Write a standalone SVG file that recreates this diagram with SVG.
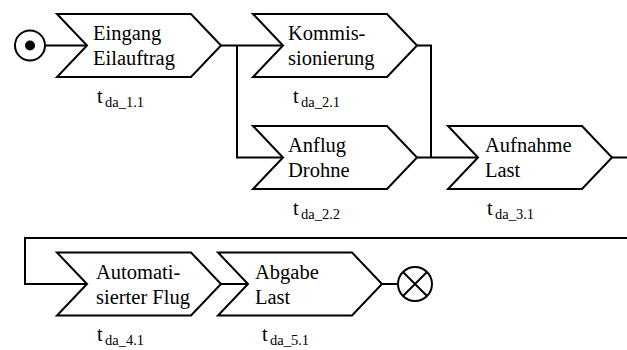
<svg xmlns="http://www.w3.org/2000/svg" width="627" height="350" viewBox="0 0 627 350" font-family="Liberation Serif, serif">
  <style>
    .shape { fill: #fff; stroke: #000; stroke-width: 2; }
    .wire { fill: none; stroke: #000; stroke-width: 2; }
    text { font-family: 'Liberation Serif', serif; font-size: 20.5px; fill: #000; }
    .sub { font-size: 14.5px; }
  </style>
  <defs>
    <!-- process step: chevron 164 wide, 63 high, notch and tip 30 deep -->
    <path id="step" class="shape" d="M0,0 H134 L164,31.5 L134,63 H0 L30,31.5 Z"/>
  </defs>
  <rect width="627" height="350" fill="#fff"/>

  <!-- connectors -->
  <g id="connectors" class="wire">
    <path d="M45,45.5 H88"/>
    <path d="M221,45.5 H283"/>
    <path d="M237,45.5 V157.5 H283"/>
    <path d="M417,45.5 H431 V157.5"/>
    <path d="M417,157.5 H479"/>
    <path d="M612,157.5 H627"/>
    <path d="M627,238 H25 V284 H88"/>
    <path d="M221,284 H249"/>
    <path d="M382,284 H398"/>
  </g>

  <!-- start event -->
  <g id="start">
    <circle cx="30" cy="45.5" r="15" class="shape"/>
    <circle cx="30" cy="45.5" r="5" fill="#000"/>
  </g>

  <g id="n1">
    <use href="#step" x="57" y="14"/>
    <text x="93" y="40">Eingang</text>
    <text x="93" y="65">Eilauftrag</text>
    <text x="97" y="103">t<tspan class="sub" x="105" y="107">da_1.1</tspan></text>
  </g>

  <g id="n2">
    <use href="#step" x="253" y="14"/>
    <text x="288" y="40">Kommis-</text>
    <text x="288" y="65">sionierung</text>
    <text x="293" y="103">t<tspan class="sub" x="301" y="107">da_2.1</tspan></text>
  </g>

  <g id="n3">
    <use href="#step" x="253" y="126"/>
    <text x="288" y="152">Anflug</text>
    <text x="288" y="177">Drohne</text>
    <text x="293" y="215">t<tspan class="sub" x="301" y="219">da_2.2</tspan></text>
  </g>

  <g id="n4">
    <use href="#step" x="448" y="126"/>
    <text x="485" y="152">Aufnahme</text>
    <text x="485" y="177">Last</text>
    <text x="487" y="215">t<tspan class="sub" x="495" y="219">da_3.1</tspan></text>
  </g>

  <g id="n5">
    <use href="#step" x="57" y="252.5"/>
    <text x="96" y="278.5">Automati-</text>
    <text x="96" y="303.5">sierter Flug</text>
    <text x="97" y="341">t<tspan class="sub" x="105" y="345">da_4.1</tspan></text>
  </g>

  <g id="n6">
    <use href="#step" x="218" y="252.5"/>
    <text x="255" y="278.5">Abgabe</text>
    <text x="255" y="303.5">Last</text>
    <text x="262" y="341">t<tspan class="sub" x="270" y="345">da_5.1</tspan></text>
  </g>

  <!-- end event -->
  <g id="end">
    <circle cx="415" cy="284" r="17" class="shape"/>
    <path d="M403,272 L427,296 M427,272 L403,296" class="wire"/>
  </g>
</svg>
